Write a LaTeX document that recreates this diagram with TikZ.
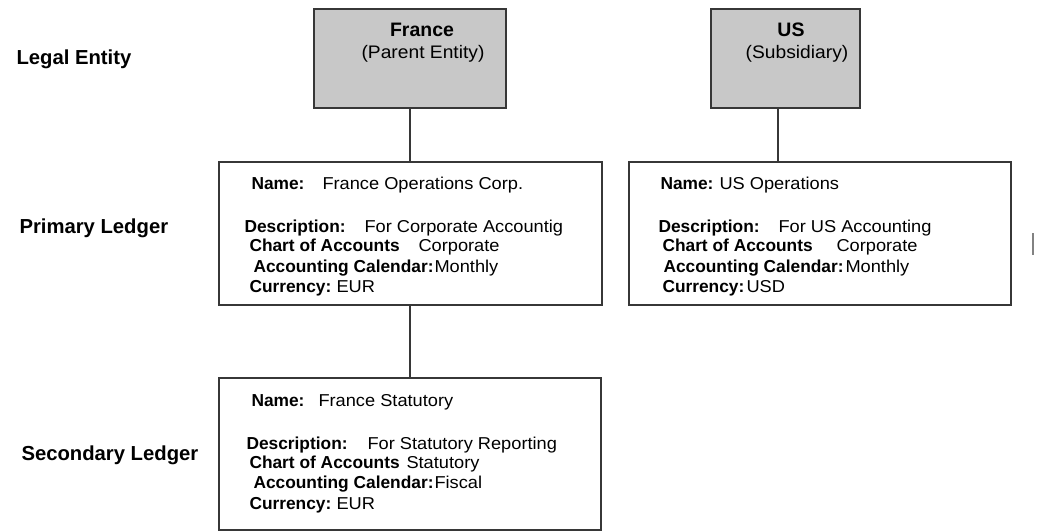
\documentclass[tikz,border=0pt]{standalone}
\usepackage{fontspec}
\setmainfont{Liberation Sans}
\newfontfamily\widesans[FakeStretch=1.06]{Liberation Sans}
\definecolor{boxgray}{RGB}{200,200,200}
\definecolor{edgegray}{RGB}{55,55,55}
\tikzset{every picture/.style={line width=0.75pt}}

\begin{document}
\begin{tikzpicture}[x=0.75pt,y=0.75pt,yscale=-1,xscale=1,
    level/.style={anchor=base west,inner sep=0pt,font=\fontsize{15.2}{18}\selectfont\bfseries},
    headbold/.style={anchor=base,inner sep=0pt,font=\fontsize{14.6}{17}\selectfont\bfseries},
    headsub/.style={anchor=base,inner sep=0pt,font=\fontsize{13.6}{16}\widesans},
    entitybox/.style={draw=edgegray,line width=1.2pt,fill=boxgray,inner sep=0pt,minimum height=74.25pt},
    ledgerbox/.style={draw=edgegray,line width=1.2pt,fill=white,inner sep=0pt},
    key/.style={anchor=base west,inner sep=0pt,font=\fontsize{13}{15}\selectfont\bfseries},
    val/.style={anchor=base west,inner sep=0pt,font=\fontsize{12.9}{15}\widesans},
    link/.style={draw=edgegray,line width=1.2pt}]
        \useasboundingbox (0,0) rectangle (1037,531);
        % Row labels
        \node [level] (lblEntity) at (16,65) {Legal Entity};
        \node [level] (lblPrimary) at (19,233) {Primary Ledger};
        \node [level] (lblSecondary) at (21,460) {Secondary Ledger};
        % Legal entities
        \node [entitybox,minimum width=144pt] (frEntity) at (410,58.5) {};
        \node [entitybox,minimum width=111.75pt] (usEntity) at (785.5,58.5) {};
        \node [headbold] (frTitle) at (422,37) {France};
        \node [headsub] (frSub) at (423,59) {(Parent Entity)};
        \node [headbold] (usTitle) at (791,37) {US};
        \node [headsub] (usSub) at (797,59) {(Subsidiary)};
        % Ledger boxes
        \node [ledgerbox,minimum width=287.25pt,minimum height=107.25pt] (frPrimary) at (410.5,233.5) {};
        \node [ledgerbox,minimum width=286.5pt,minimum height=107.25pt] (usPrimary) at (820,233.5) {};
        \node [ledgerbox,minimum width=286.5pt,minimum height=114pt] (frSecondary) at (410,454) {};
        % Connectors
        \draw [link] (frEntity.south) -- (frEntity.south |- frPrimary.north);
        \draw [link] ([xshift=-5.6pt]usEntity.south) -- ([xshift=-5.6pt]usEntity.south |- usPrimary.north);
        \draw [link] (frPrimary.south -| frEntity.south) -- (frEntity.south |- frSecondary.north);
        % France primary ledger
        \node [key] (fpName) at (251,189) {Name:};
        \node [val] (fpNameV) at (322,189) {France Operations Corp.};
        \node [key] (fpDesc) at (244,232) {Description:};
        \node [val] (fpDescV) at (364,232) {For Corporate Accountig};
        \node [key] (fpCoa) at (249,251) {Chart of Accounts};
        \node [val] (fpCoaV) at (418,251) {Corporate};
        \node [key] (fpCal) at (253,272) {Accounting Calendar:};
        \node [val] (fpCalV) at (434,272) {Monthly};
        \node [key] (fpCur) at (249,292) {Currency:};
        \node [val] (fpCurV) at (336,292) {EUR};
        % US primary ledger
        \node [key] (upName) at (660,189) {Name:};
        \node [val] (upNameV) at (719,189) {US Operations};
        \node [key] (upDesc) at (658,232) {Description:};
        \node [val] (upDescV) at (778,232) {For US Accounting};
        \node [key] (upCoa) at (662,251) {Chart of Accounts};
        \node [val] (upCoaV) at (836,251) {Corporate};
        \node [key] (upCal) at (663,272) {Accounting Calendar:};
        \node [val] (upCalV) at (845,272) {Monthly};
        \node [key] (upCur) at (662,292) {Currency:};
        \node [val] (upCurV) at (746,292) {USD};
        % France secondary ledger
        \node [key] (fsName) at (251,406) {Name:};
        \node [val] (fsNameV) at (318,406) {France Statutory};
        \node [key] (fsDesc) at (246,449) {Description:};
        \node [val] (fsDescV) at (367,449) {For Statutory Reporting};
        \node [key] (fsCoa) at (249,468) {Chart of Accounts};
        \node [val] (fsCoaV) at (406,468) {Statutory};
        \node [key] (fsCal) at (253,488) {Accounting Calendar:};
        \node [val] (fsCalV) at (434,488) {Fiscal};
        \node [key] (fsCur) at (249,509) {Currency:};
        \node [val] (fsCurV) at (336,509) {EUR};
        % stray mark
        \draw [color={rgb, 255:red, 130; green, 130; blue, 130 }, line width=1.5pt] (1033,233) -- (1033,255);
\end{tikzpicture}
\end{document}
